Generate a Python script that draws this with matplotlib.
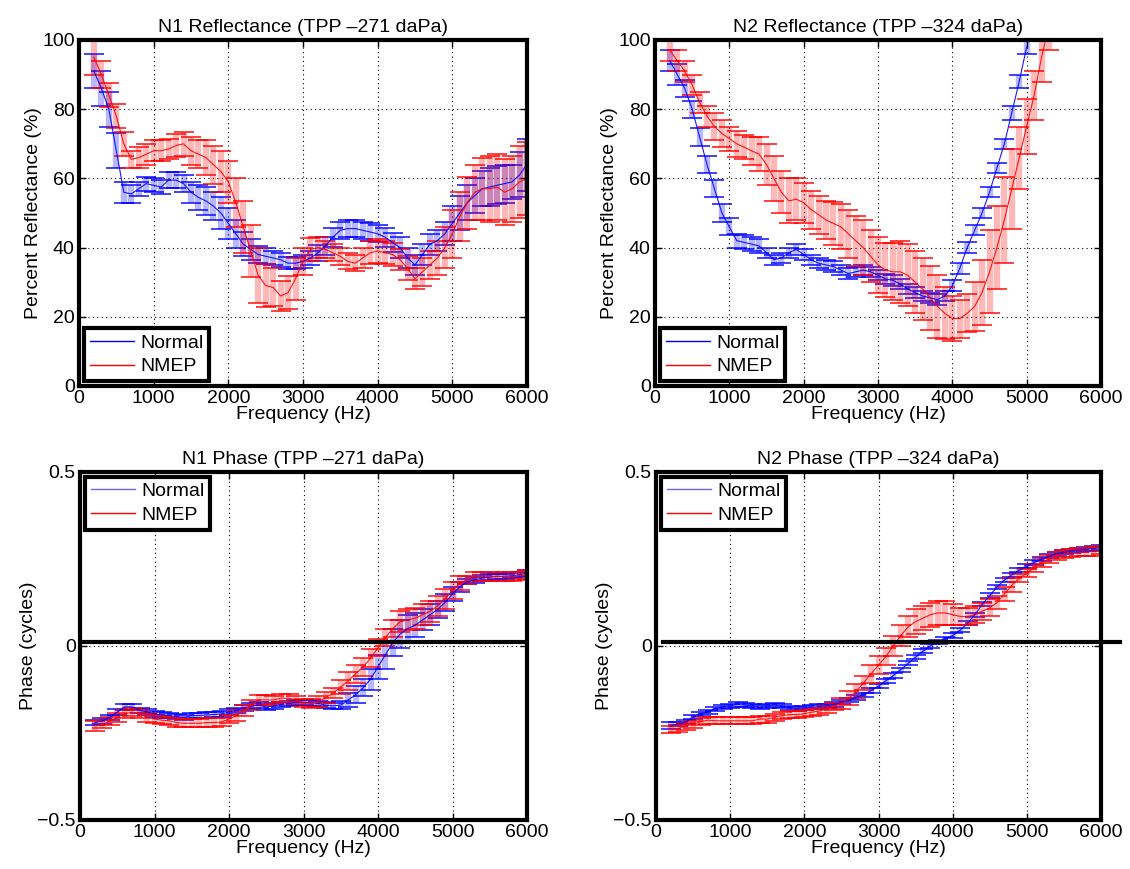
import numpy as np
import matplotlib
matplotlib.use("Agg")
import matplotlib.pyplot as plt
from matplotlib.lines import Line2D

plt.rcParams['font.family'] = ['Liberation Sans', 'DejaVu Sans']
plt.rcParams['font.size'] = 14

freq = list(range(200, 6001, 100))

# N1 reflectance (%)
n1_ref_normal = [91, 86, 80, 68, 56, 55.5, 57, 58.5, 58, 57.5, 59.5, 59.5, 58.5, 56, 54.5, 53.5, 52, 50, 47, 44,
                 41, 39.5, 38, 37.5, 37, 36.5, 35.5, 35.5, 36, 37, 38.5, 40.5, 43, 45, 45.5, 45.5, 45, 44.5, 44, 43,
                 41.5, 40, 37, 35, 38, 41, 42, 44, 47, 50, 53, 55, 57, 57.5, 58, 58.5, 59, 61, 64]
n1_ref_normal_err = [5, 5, 5, 5, 3, 2.5, 2, 2, 2, 2, 2.3, 2.3, 2.5, 3, 3.5, 4, 4, 4.5, 4.5, 4,
                     3.5, 3, 2.5, 2.3, 2, 2, 1.8, 1.8, 2, 2, 2.3, 2.5, 2.7, 2.5, 2.5, 2.5, 2.5, 2.5, 2.5, 2.7,
                     2.8, 3, 3, 3, 3, 3, 3, 3.3, 5, 5, 5, 5, 5, 5.5, 5.5, 5.5, 5, 6.5, 7.5]
n1_ref_nmep = [95, 90, 84, 78, 70, 65.5, 66, 67, 68, 68, 68.5, 69.5, 70, 68, 67, 66, 64, 62, 59, 53,
               46, 39, 32, 29, 28.5, 26, 27, 31, 36, 39.5, 40, 39.5, 38.5, 37.5, 36, 35.5, 37, 38.5, 39, 38.5,
               38, 36.5, 34, 31, 33, 35, 37, 40, 44, 49, 53, 56, 57, 57, 57.5, 56, 57, 59, 60]
n1_ref_nmep_err = [5, 4, 3.5, 3.5, 3.5, 2.5, 3, 3, 3, 3, 2.8, 3.2, 3.5, 4, 4, 5, 5.5, 6, 6, 7,
                   7.5, 7.5, 8, 6.3, 5.5, 4.3, 4.8, 6, 4, 3.3, 3, 2.5, 2.5, 2.5, 2.3, 2.3, 3, 3.3, 3.5, 3.3,
                   3.3, 3, 3.5, 3, 4, 4, 5, 6, 7, 7, 7.5, 8, 9, 9.5, 9.5, 9.5, 9.5, 10.5, 10.5]

# N2 reflectance (%)
n2_ref_normal = [94, 90, 86, 80, 72, 64, 57, 50, 46, 42, 41.5, 41, 40.5, 38.5, 36.5, 37, 38.5, 39.5, 38, 36.5,
                 35.5, 35, 34.5, 33.5, 32.5, 33, 33.5, 33, 32, 31, 30.5, 29.5, 28, 27, 26, 25.5, 25, 26, 29, 34,
                 40, 45, 50, 56, 63, 70, 79, 88, 98]
n2_ref_normal_err = [3, 3, 2.5, 2.5, 2.5, 2.5, 2.5, 2.5, 2.5, 2, 2, 2, 2, 1.5, 1.5, 1.5, 1.5, 1.5, 1.5, 1.5,
                     1.5, 1.5, 1.5, 1.5, 1.5, 1.5, 1.5, 1.5, 1.5, 1.5, 1.5, 1.5, 1.5, 1.5, 1.5, 1.5, 1.5, 1.5, 1.5, 1.5,
                     1.5, 1.5, 1.5, 1.5, 1.5, 1.5, 2, 2, 2]
n2_ref_nmep = [97, 94, 91, 87, 82, 78, 75, 73, 71.5, 70, 69, 68, 67, 64, 60, 56, 53.5, 54, 53, 51,
               49.5, 48, 47, 46, 44, 42, 40, 37.5, 35, 33.5, 33, 33, 32, 30, 28, 25.5, 23, 21, 19.5, 19.5,
               21, 23, 27, 33, 40, 48, 57, 66, 75, 84, 95, 104]
n2_ref_nmep_err = [3, 3, 3, 3, 3, 3, 4, 4, 3.5, 3.7, 3.5, 4, 5, 6, 6.5, 6, 6.5, 6, 5.8, 5.5,
                   5.5, 5.5, 6.2, 6.5, 7, 7.2, 8, 7.5, 8, 7.7, 8.2, 9, 9, 9, 9, 9.2, 9, 7.5, 6.5, 5.5,
                   5.5, 7, 9.5, 12, 12, 12.5, 11.5, 9, 8, 7, 7, 7]

# N1 phase (cycles)
n1_ph_normal = [-0.22, -0.215, -0.205, -0.19, -0.175, -0.175, -0.185, -0.19, -0.195, -0.198, -0.2, -0.203, -0.205,
                -0.2, -0.2, -0.198, -0.197, -0.195, -0.19, -0.185, -0.178, -0.173, -0.17, -0.175, -0.172, -0.168,
                -0.165, -0.162, -0.162, -0.163, -0.165, -0.17, -0.172, -0.17, -0.155, -0.14, -0.12, -0.095, -0.06,
                -0.025, 0.01, 0.035, 0.05, 0.06, 0.075, 0.09, 0.105, 0.125, 0.15, 0.17, 0.185, 0.19, 0.195, 0.198,
                0.2, 0.2, 0.202, 0.205, 0.21]
n1_ph_normal_err = [0.008] * 33 + [0.012, 0.02, 0.025, 0.025, 0.03, 0.035, 0.04, 0.04, 0.04, 0.04, 0.035,
                                   0.03, 0.03, 0.025, 0.025, 0.02, 0.015] + [0.008] * 9
n1_ph_nmep = [-0.23, -0.225, -0.215, -0.205, -0.195, -0.19, -0.195, -0.205, -0.21, -0.213, -0.215, -0.22, -0.222,
              -0.222, -0.222, -0.22, -0.22, -0.218, -0.21, -0.2, -0.185, -0.17, -0.155, -0.155, -0.155, -0.15,
              -0.15, -0.155, -0.163, -0.165, -0.16, -0.148, -0.135, -0.118, -0.1, -0.08, -0.06, -0.035, -0.005,
              0.025, 0.05, 0.07, 0.075, 0.08, 0.09, 0.1, 0.115, 0.135, 0.16, 0.18, 0.19, 0.2, 0.2, 0.2, 0.2,
              0.2, 0.2, 0.202, 0.205]
n1_ph_nmep_err = [0.015] + [0.012] * 18 + [0.015] * 5 + [0.012] * 6 + [0.015] * 3 + [0.02] + [0.025] * 7 + \
                 [0.03] * 7 + [0.025, 0.02] + [0.012] * 9

# N2 phase (cycles)
n2_ph_normal = [-0.228, -0.225, -0.218, -0.205, -0.195, -0.19, -0.18, -0.175, -0.172, -0.168, -0.17, -0.172,
                -0.175, -0.172, -0.17, -0.173, -0.178, -0.18, -0.178, -0.176, -0.174, -0.172, -0.168, -0.162,
                -0.155, -0.148, -0.14, -0.128, -0.115, -0.1, -0.085, -0.068, -0.05, -0.032, -0.015, 0.0, 0.012,
                0.02, 0.03, 0.045, 0.065, 0.09, 0.12, 0.145, 0.17, 0.19, 0.205, 0.218, 0.23, 0.24, 0.25, 0.258,
                0.265, 0.27, 0.273, 0.276, 0.278, 0.28, 0.283]
n2_ph_normal_err = [0.01] + [0.006] * 58
n2_ph_nmep = [-0.24, -0.237, -0.23, -0.225, -0.218, -0.213, -0.215, -0.215, -0.215, -0.215, -0.215, -0.215,
              -0.21, -0.21, -0.205, -0.2, -0.197, -0.197, -0.195, -0.19, -0.187, -0.182, -0.175, -0.165, -0.15,
              -0.13, -0.105, -0.08, -0.055, -0.03, 0.0, 0.03, 0.055, 0.07, 0.08, 0.09, 0.095, 0.095, 0.09, 0.085,
              0.085, 0.09, 0.1, 0.11, 0.125, 0.15, 0.175, 0.195, 0.21, 0.225, 0.24, 0.25, 0.258, 0.265, 0.268,
              0.27, 0.27, 0.272, 0.275]
n2_ph_nmep_err = [0.01] * 23 + [0.015, 0.02, 0.02, 0.02, 0.025, 0.025, 0.025, 0.03, 0.03, 0.03, 0.035, 0.035,
                                0.035, 0.035, 0.035, 0.03, 0.025, 0.025, 0.025, 0.025, 0.025, 0.02, 0.02, 0.02] + [0.012] * 12

W, H = 1130, 869
fig = plt.figure(figsize=(W / 100, H / 100), dpi=100)


def make_ax(l, t, r, b):
    return fig.add_axes([l / W, 1 - b / H, (r - l) / W, (b - t) / H])


def eb(ax, y, e, color):
    x = freq[:len(y)]
    line, caps, bars = ax.errorbar(x, y, yerr=e, color=color, lw=0.8, elinewidth=4.6, capsize=7,
                                   capthick=1.3)
    for c in caps:
        c.set_alpha(0.8)
    for b in bars:
        b.set_alpha(0.28)
    line.set_alpha(0.9)


def style(ax, ylim, yticks, yticklabels, ylabel, title):
    ax.set_xlim(0, 6000)
    ax.set_ylim(*ylim)
    ax.set_xticks(range(0, 6001, 1000))
    ax.set_yticks(yticks)
    ax.set_yticklabels(yticklabels)
    ax.grid(True, color='black', linestyle=(0, (1, 3)), lw=0.8)
    ax.tick_params(direction='in', top=True, right=True, length=5, width=1, labelsize=14, pad=3)
    for s in ax.spines.values():
        s.set_linewidth(3)
    ax.set_xlabel('Frequency (Hz)', fontsize=14, labelpad=-1)
    ax.set_ylabel(ylabel, fontsize=14, labelpad=0)
    ax.set_title(title, fontsize=14, pad=6)


def legend(ax, loc, alpha_blue=1.0):
    h = [Line2D([], [], color='blue', lw=1, alpha=alpha_blue), Line2D([], [], color='red', lw=1)]
    lg = ax.legend(h, ['Normal', 'NMEP'], loc=loc, fontsize=14, fancybox=False, framealpha=1,
                   handlelength=2.3, handletextpad=0.3, borderpad=0.3, labelspacing=0.3,
                   borderaxespad=0.25)
    lg.get_frame().set_edgecolor('black')
    lg.get_frame().set_linewidth(3)


ref_ticks = [0, 20, 40, 60, 80, 100]
ph_ticks = [-0.5, 0, 0.5]
ph_labels = ['\u22120.5', '0', '0.5']

ax1 = make_ax(79, 40, 527, 386)
eb(ax1, n1_ref_normal, n1_ref_normal_err, 'blue')
eb(ax1, n1_ref_nmep, n1_ref_nmep_err, 'red')
style(ax1, (0, 100), ref_ticks, [str(t) for t in ref_ticks], 'Percent Reflectance (%)',
      'N1 Reflectance (TPP \u2013271 daPa)')
legend(ax1, 'lower left')

ax2 = make_ax(655, 40, 1101, 386)
eb(ax2, n2_ref_normal, n2_ref_normal_err, 'blue')
eb(ax2, n2_ref_nmep, n2_ref_nmep_err, 'red')
style(ax2, (0, 100), ref_ticks, [str(t) for t in ref_ticks], 'Percent Reflectance (%)',
      'N2 Reflectance (TPP \u2013324 daPa)')
legend(ax2, 'lower left')

ax3 = make_ax(80, 472, 527, 820)
eb(ax3, n1_ph_normal, n1_ph_normal_err, 'blue')
eb(ax3, n1_ph_nmep, n1_ph_nmep_err, 'red')
ax3.plot([0, 6000], [0.012, 0.012], color='black', lw=3, zorder=5)
style(ax3, (-0.5, 0.5), ph_ticks, ph_labels, 'Phase (cycles)', 'N1 Phase (TPP \u2013271 daPa)')
legend(ax3, 'upper left', alpha_blue=0.6)

ax4 = make_ax(656, 472, 1101, 820)
eb(ax4, n2_ph_normal, n2_ph_normal_err, 'blue')
eb(ax4, n2_ph_nmep, n2_ph_nmep_err, 'red')
ax4.plot([100, 6250], [0.012, 0.012], color='black', lw=3, zorder=5, clip_on=False)
style(ax4, (-0.5, 0.5), ph_ticks, ph_labels, 'Phase (cycles)', 'N2 Phase (TPP \u2013324 daPa)')
legend(ax4, 'upper left', alpha_blue=0.6)

fig.savefig('out.png', dpi=100)
